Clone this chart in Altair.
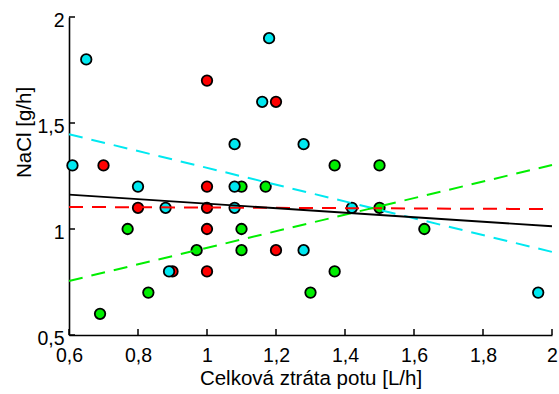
import altair as alt
import pandas as pd

# --- data ---
cyan_x = [0.65, 1.18, 1.16, 1.08, 1.28, 0.61, 0.80, 1.08, 0.88, 1.08, 1.42, 1.28, 0.89, 1.96]
cyan_y = [1.80, 1.90, 1.60, 1.40, 1.40, 1.30, 1.20, 1.20, 1.10, 1.10, 1.10, 0.90, 0.80, 0.70]

red_x = [1.00, 1.20, 0.70, 1.00, 0.80, 1.00, 1.00, 1.20, 0.90, 1.00]
red_y = [1.70, 1.60, 1.30, 1.20, 1.10, 1.10, 1.00, 0.90, 0.80, 0.80]

green_x = [1.37, 1.50, 1.10, 1.17, 1.50, 0.77, 1.10, 1.63, 0.97, 1.10, 1.37, 0.83, 1.30, 0.69]
green_y = [1.30, 1.30, 1.20, 1.20, 1.10, 1.00, 1.00, 1.00, 0.90, 0.90, 0.80, 0.70, 0.70, 0.60]

fit_x = [0.6, 2.0]
fit_all = [1.162, 1.013]
fit_red = [1.104, 1.094]
fit_cyan = [1.447, 0.892]
fit_green = [0.755, 1.302]

x_ticks = [0.6, 0.8, 1.0, 1.2, 1.4, 1.6, 1.8, 2.0]
y_ticks = [0.5, 1.0, 1.5, 2.0]

groups = ["red", "green", "cyan"]
colors = ["#ff0000", "#00ee00", "#00e8f0"]

rows = []
for g, xs, ys in [("red", red_x, red_y), ("green", green_x, green_y), ("cyan", cyan_x, cyan_y)]:
    for a, b in zip(xs, ys):
        rows.append({"x": a, "y": b, "g": g})
pts = pd.DataFrame(rows)

lines = []
for g, ys in [("red", fit_red), ("cyan", fit_cyan), ("green", fit_green)]:
    for a, b in zip(fit_x, ys):
        lines.append({"x": a, "y": b, "g": g})
dashed = pd.DataFrame(lines)
solid = pd.DataFrame({"x": fit_x, "y": fit_all})

xt = pd.DataFrame({"t": x_ticks})
yt = pd.DataFrame({"t": y_ticks})

FONT = "Liberation Sans"
xscale = alt.Scale(domain=[0.6, 2.0], nice=False, zero=False)
yscale = alt.Scale(domain=[0.5, 2.0], nice=False, zero=False)
cscale = alt.Scale(domain=groups, range=colors)

label_expr = "replace(toString(datum.value), '.', ',')"

xaxis = alt.Axis(values=x_ticks, labelExpr=label_expr, ticks=False, grid=False,
                 domainColor="black", domainWidth=1.6, labelFontSize=19.5,
                 labelColor="black", labelPadding=11, title="Celková ztráta potu [L/h]",
                 titleFontSize=20.5, titleFontWeight="normal", titleColor="black",
                 titlePadding=4, labelFont=FONT, titleFont=FONT, labelFlush=False)
yaxis = alt.Axis(values=y_ticks, labelExpr=label_expr, ticks=False, grid=False,
                 domainColor="black", domainWidth=1.6, labelFontSize=19.5,
                 labelColor="black", labelPadding=5, labelOffset=3, title="NaCl [g/h]",
                 titleFontSize=20.5, titleFontWeight="normal", titleColor="black",
                 titlePadding=2, titleY=115, labelFont=FONT, titleFont=FONT, labelFlush=False)

points = alt.Chart(pts).mark_point(filled=True, shape="circle", size=110, stroke="black",
                                   strokeWidth=1.8, opacity=1).encode(
    x=alt.X("x:Q", scale=xscale, axis=xaxis),
    y=alt.Y("y:Q", scale=yscale, axis=yaxis),
    fill=alt.Fill("g:N", scale=cscale, legend=None),
)

dash_lines = alt.Chart(dashed).mark_line(strokeWidth=2, strokeDash=[14, 9]).encode(
    x=alt.X("x:Q", scale=xscale),
    y=alt.Y("y:Q", scale=yscale),
    color=alt.Color("g:N", scale=cscale, legend=None),
    detail="g:N",
)

solid_line = alt.Chart(solid).mark_line(strokeWidth=1.8, color="black").encode(
    x=alt.X("x:Q", scale=xscale),
    y=alt.Y("y:Q", scale=yscale),
)

xticks_layer = alt.Chart(xt).mark_rule(color="black", strokeWidth=1.5).encode(
    x=alt.X("t:Q", scale=xscale),
    y=alt.value(318),
    y2=alt.value(312),
)
yticks_layer = alt.Chart(yt).mark_rule(color="black", strokeWidth=1.5).encode(
    y=alt.Y("t:Q", scale=yscale),
    x=alt.value(0),
    x2=alt.value(6),
)

chart = alt.layer(xticks_layer, yticks_layer, points, dash_lines, solid_line).properties(
    width=483, height=318,
    autosize=alt.AutoSizeParams(type="none"),
    padding={"left": 69, "top": 17, "right": 7, "bottom": 59},
    background="white",
).configure_view(stroke=None)

chart.save("out.html", embed_options={"renderer": "svg", "actions": False})
